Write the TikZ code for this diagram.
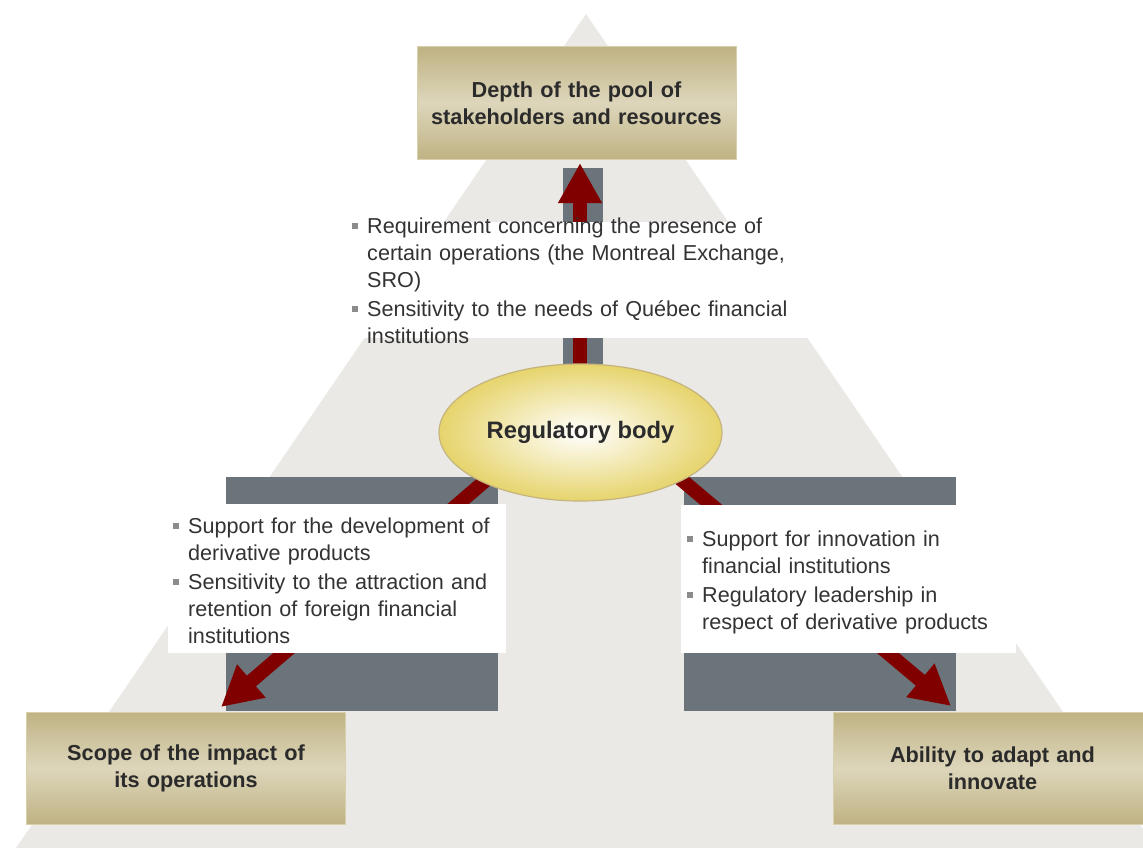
\documentclass[tikz,border=0pt]{standalone}
\usepackage{fontspec}
\setmainfont{Liberation Sans}
\usetikzlibrary{shapes.geometric, arrows.meta}
\definecolor{trigray}{HTML}{EBE9E5}
\definecolor{bargray}{HTML}{6B737B}
\definecolor{arrowred}{HTML}{800000}
\definecolor{golddark}{HTML}{BFB283}
\definecolor{goldlight}{HTML}{DDD6BB}
\definecolor{goldedge}{HTML}{D8CFAC}
\definecolor{ellyellow}{HTML}{E6D46C}
\definecolor{elledge}{HTML}{C6B47E}
\definecolor{textgray}{HTML}{333333}
\definecolor{boxtext}{HTML}{2B2B2B}
\definecolor{bulletgray}{HTML}{8C8C8C}
\pgfdeclarelayer{bars}
\pgfdeclarelayer{arrows}
\pgfdeclarelayer{panels}
\pgfsetlayers{bars,arrows,panels,main}
\newcommand{\noteitem}{\makebox[15pt][l]{\textcolor{bulletgray}{\rule[4pt]{6pt}{6pt}}}}
\newcommand{\nl}{\\\hspace*{15pt}}
\newcommand{\nextitem}{\\[2pt]}

\begin{document}
\begin{tikzpicture}[
    x=1pt, y=-1pt,
    goal/.style={rectangle, draw=goldedge, line width=1pt, top color=golddark, bottom color=golddark, middle color=goldlight, minimum width=319pt, minimum height=112pt, text width=305pt, align=center, inner sep=0pt, text=boxtext, font=\bfseries\fontsize{21.7}{27}\selectfont},
    regbody/.style={ellipse, draw=elledge, line width=1.2pt, inner color=white, outer color=ellyellow, minimum width=283pt, minimum height=137pt, inner sep=0pt, text=boxtext, font=\bfseries\fontsize{23.8}{28}\selectfont},
    panel/.style={rectangle, fill=white, inner sep=0pt},
    note/.style={anchor=base west, inner sep=0pt, align=left, text=textgray, font=\fontsize{21.6}{27}\selectfont},
    fatarrow/.style={arrowred, line width=14pt, -{Triangle[width=41pt, length=40pt]}}
]

\useasboundingbox (0,0) rectangle (1143,848);

\begin{pgfonlayer}{bars}
\fill[white] (0,0) rectangle (1143,848);
\fill[trigray] (586,14) -- (16,848) -- (1156,848) -- cycle;
\fill[bargray] (563,168) rectangle (603,430);
\fill[bargray] (226,477) rectangle (498,711);
\fill[bargray] (684,477) rectangle (956,711);
\end{pgfonlayer}

\node[goal] (depth) at (576.5,103) {Depth of the pool of\\stakeholders and resources};
\node[goal] (scope) at (186,768) {Scope of the impact of\\its operations};
\node[goal] (adapt) at (992.5,768) {Ability to adapt and\\innovate};
\node[regbody] (reg) at (580.5,432.5) {Regulatory body};

\begin{pgfonlayer}{panels}
\node[panel, minimum width=480pt, minimum height=116pt] (uppanel) at (580,280) {};
\node[panel, minimum width=338pt, minimum height=149pt] (leftpanel) at (337,578.5) {};
\node[panel, minimum width=335pt, minimum height=148pt] (rightpanel) at (848.5,579) {};
\end{pgfonlayer}

\node[note, text width=480pt] (upnote) at (352,233) {\noteitem Requirement concerning the presence of\nl certain operations (the Montreal Exchange,\nl SRO)\nextitem
\noteitem Sensitivity to the needs of Québec financial\nl institutions};
\node[note, text width=350pt] (leftnote) at (173,533) {\noteitem Support for the development of\nl derivative products\nextitem
\noteitem Sensitivity to the attraction and\nl retention of foreign financial\nl institutions};
\node[note, text width=340pt] (rightnote) at (687,546) {\noteitem Support for innovation in\nl financial institutions\nextitem
\noteitem Regulatory leadership in\nl respect of derivative products};

\coordinate (upstart) at (580,400);
\coordinate (uptip) at (580,163);
\coordinate (leftstart) at (520,451);
\coordinate (lefttip) at (221,707);
\coordinate (rightstart) at (640,445);
\coordinate (righttip) at (951,706);

\begin{pgfonlayer}{arrows}
\draw[fatarrow] (upstart) -- (uptip);
\draw[fatarrow] (leftstart) -- (lefttip);
\draw[fatarrow] (rightstart) -- (righttip);
\end{pgfonlayer}

\end{tikzpicture}
\end{document}
